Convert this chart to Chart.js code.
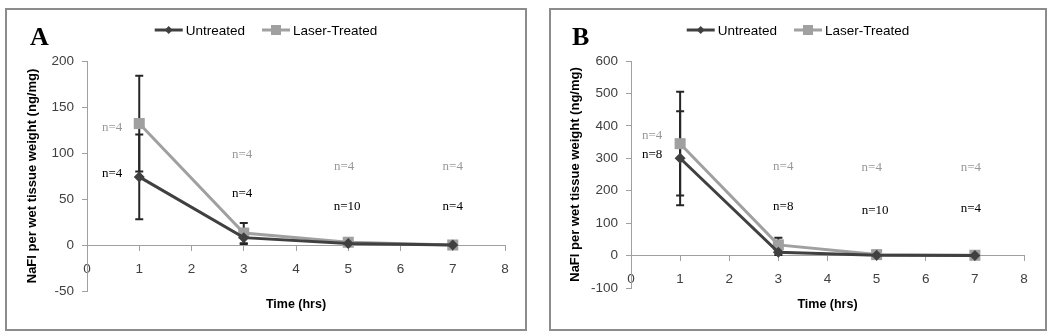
<!DOCTYPE html>
<html>
<head>
<meta charset="utf-8">
<script src="https://cdn.jsdelivr.net/npm/chart.js@4/dist/chart.umd.min.js"></script>
<style>
  body { margin: 0; background: #fff; width: 1050px; height: 336px; position: relative; overflow: hidden; }
  .frame { position: absolute; top: 8px; height: 319px; border: 2px solid #8c8c8c; background: #fff; }
  #frameA { left: 5px; width: 518px; }
  #frameB { left: 549px; width: 494px; }
  canvas { display: block; }
</style>
</head>
<body>
<div class="frame" id="frameA"><canvas id="chartA" width="518" height="319"></canvas></div>
<div class="frame" id="frameB"><canvas id="chartB" width="494" height="319"></canvas></div>
<script>
// sampling times (hrs)
var hours = [1, 3, 5, 7];

// panel A
var untreatedA = [74, 8, 1.5, 0];
var laserA = [132, 13, 3, 0];
var untreatedErrA = [46, 7, 1, 0];
var laserErrA = [52, 11, 1, 0];
var untreatedNA = ['n=4', 'n=4', 'n=10', 'n=4'];
var laserNA = ['n=4', 'n=4', 'n=4', 'n=4'];
// where the n= notes sit, in axis units [x, y]
var untreatedNPosA = [[0.48, 78], [2.97, 56], [4.98, 42], [7.0, 42]];
var laserNPosA = [[0.48, 128], [2.97, 98], [4.92, 85], [7.0, 85]];

// panel B
var untreatedB = [300, 10, 1, 0];
var laserB = [345, 33, 3, 1];
var untreatedErrB = [145, 8, 1, 0];
var laserErrB = [160, 22, 2, 0];
var untreatedNB = ['n=8', 'n=8', 'n=10', 'n=4'];
var laserNB = ['n=4', 'n=4', 'n=4', 'n=4'];
var untreatedNPosB = [[0.43, 311], [3.1, 150], [4.97, 138], [6.92, 144]];
var laserNPosB = [[0.43, 371], [3.1, 274], [4.9, 270], [6.92, 270]];

var darkColor = '#404040';
var lightColor = '#a0a0a0';
var axisColor = '#a0a0a0';

Chart.defaults.font.family = "'Liberation Sans', Arial, sans-serif";

function toPoints(xs, ys) {
	var pts = [];
	for (var i = 0; i < xs.length; i++) {
		pts.push({x: xs[i], y: ys[i]});
	}
	return pts;
}

// error bars, drawn before the markers so the markers sit on top
var errorBarPlugin = {
	id: 'errorBars',
	beforeDatasetsDraw: function(chart) {
		var ctx = chart.ctx;
		var xs = chart.scales.x, ys = chart.scales.y;
		var errs = chart.options.plugins.errorBars.errs;
		ctx.save();
		ctx.strokeStyle = '#262626';
		ctx.lineWidth = 2;
		for (var d = 0; d < chart.data.datasets.length; d++) {
			var pts = chart.data.datasets[d].data;
			for (var i = 0; i < pts.length; i++) {
				var e = errs[d][i];
				if (!e) continue;
				var px = xs.getPixelForValue(pts[i].x);
				var top = ys.getPixelForValue(pts[i].y + e);
				var bot = ys.getPixelForValue(pts[i].y - e);
				ctx.beginPath();
				ctx.moveTo(px, top); ctx.lineTo(px, bot);
				ctx.moveTo(px - 4, top); ctx.lineTo(px + 4, top);
				ctx.moveTo(px - 4, bot); ctx.lineTo(px + 4, bot);
				ctx.stroke();
			}
		}
		ctx.restore();
	}
};

// n= notes, panel letter and legend
var notesPlugin = {
	id: 'notes',
	afterDraw: function(chart) {
		var ctx = chart.ctx;
		var o = chart.options.plugins.notes;
		var xs = chart.scales.x, ys = chart.scales.y;
		ctx.save();
		ctx.font = "13px 'Liberation Serif', serif";
		ctx.textAlign = 'center';
		ctx.textBaseline = 'middle';
		for (var s = 0; s < o.sets.length; s++) {
			var set = o.sets[s];
			ctx.fillStyle = set.color;
			for (var i = 0; i < set.text.length; i++) {
				ctx.fillText(set.text[i], xs.getPixelForValue(set.pos[i][0]), ys.getPixelForValue(set.pos[i][1]));
			}
		}

		ctx.font = "bold 26px 'Liberation Serif', serif";
		ctx.textAlign = 'left';
		ctx.textBaseline = 'alphabetic';
		ctx.fillStyle = '#000';
		ctx.fillText(o.letter, o.letterX, 35);

		// legend: line with marker, then label
		ctx.font = "13.5px 'Liberation Sans', Arial, sans-serif";
		ctx.textBaseline = 'middle';
		var ds = chart.data.datasets;
		var lineW = 28, gap = 3, between = 17;
		var total = 0;
		for (var d = 0; d < ds.length; d++) {
			total += lineW + gap + ctx.measureText(ds[d].label).width;
		}
		total += between * (ds.length - 1);
		var x = chart.width / 2 - total / 2;
		var y = 20;
		for (var d = 0; d < ds.length; d++) {
			ctx.strokeStyle = ds[d].borderColor;
			ctx.lineWidth = 3;
			ctx.beginPath();
			ctx.moveTo(x, y); ctx.lineTo(x + lineW, y);
			ctx.stroke();
			ctx.fillStyle = ds[d].borderColor;
			ctx.beginPath();
			if (ds[d].pointStyle === 'rect') {
				ctx.rect(x + lineW / 2 - 5, y - 5, 10, 10);
			} else {
				ctx.moveTo(x + lineW / 2, y - 4); ctx.lineTo(x + lineW / 2 + 4, y);
				ctx.lineTo(x + lineW / 2, y + 4); ctx.lineTo(x + lineW / 2 - 4, y);
				ctx.closePath();
			}
			ctx.fill();
			ctx.fillStyle = '#000';
			ctx.fillText(ds[d].label, x + lineW + gap, y + 1);
			x += lineW + gap + ctx.measureText(ds[d].label).width + between;
		}
		ctx.restore();
	}
};

function makePanel(canvasId, p) {
	return new Chart(document.getElementById(canvasId), {
		type: 'line',
		data: {
			datasets: [
				{
					label: 'Untreated',
					data: toPoints(hours, p.untreated),
					borderColor: darkColor,
					backgroundColor: darkColor,
					borderWidth: 3,
					pointStyle: 'rectRot',
					pointRadius: 5.5,
					pointBorderWidth: 0,
					tension: 0
				},
				{
					label: 'Laser-Treated',
					data: toPoints(hours, p.laser),
					borderColor: lightColor,
					backgroundColor: lightColor,
					borderWidth: 3,
					pointStyle: 'rect',
					pointRadius: 7.8,
					pointBorderWidth: 0,
					tension: 0
				}
			]
		},
		options: {
			responsive: false,
			animation: false,
			layout: {padding: {left: 0, right: p.padRight, top: 51, bottom: 0}},
			scales: {
				x: {
					type: 'linear',
					min: 0, max: 8,
					position: {y: 0},
					grid: {drawOnChartArea: false, tickLength: 5, color: axisColor},
					border: {color: axisColor},
					ticks: {stepSize: 1, color: darkColor, font: {size: 13.5}, padding: 11}
				},
				y: {
					min: p.yMin, max: p.yMax,
					grid: {drawOnChartArea: false, tickLength: 5, color: axisColor},
					border: {color: axisColor},
					ticks: {stepSize: p.yStep, color: darkColor, font: {size: 13.5}, padding: 8},
					title: {
						display: true,
						text: 'NaFl per wet tissue weight (ng/mg)',
						color: '#000',
						font: {size: 13, weight: 'bold'},
						padding: {top: p.yTitlePad, bottom: 0}
					},
					afterFit: function(scale) { scale.width = 80; }
				}
			},
			plugins: {
				legend: {display: false},
				tooltip: {enabled: false},
				title: {
					display: true,
					position: 'bottom',
					fullSize: false,
					text: 'Time (hrs)',
					color: '#000',
					font: {size: 12.5, weight: 'bold'},
					padding: {top: p.titleTop, bottom: 17}
				},
				errorBars: {errs: [p.untreatedErr, p.laserErr]},
				notes: {
					letter: p.letter,
					letterX: p.letterX,
					sets: [
						{text: p.laserN, pos: p.laserNPos, color: '#999999'},
						{text: p.untreatedN, pos: p.untreatedNPos, color: '#000'}
					]
				}
			}
		},
		plugins: [errorBarPlugin, notesPlugin]
	});
}

makePanel('chartA', {
	letter: 'A', letterX: 23,
	untreated: untreatedA, laser: laserA,
	untreatedErr: untreatedErrA, laserErr: laserErrA,
	untreatedN: untreatedNA, laserN: laserNA,
	untreatedNPos: untreatedNPosA, laserNPos: laserNPosA,
	yMin: -50, yMax: 200, yStep: 50,
	padRight: 20, titleTop: 6, yTitlePad: 18
});

makePanel('chartB', {
	letter: 'B', letterX: 21,
	untreated: untreatedB, laser: laserB,
	untreatedErr: untreatedErrB, laserErr: laserErrB,
	untreatedN: untreatedNB, laserN: laserNB,
	untreatedNPos: untreatedNPosB, laserNPos: laserNPosB,
	yMin: -100, yMax: 600, yStep: 100,
	padRight: 21, titleTop: 9, yTitlePad: 17
});
</script>
</body>
</html>
